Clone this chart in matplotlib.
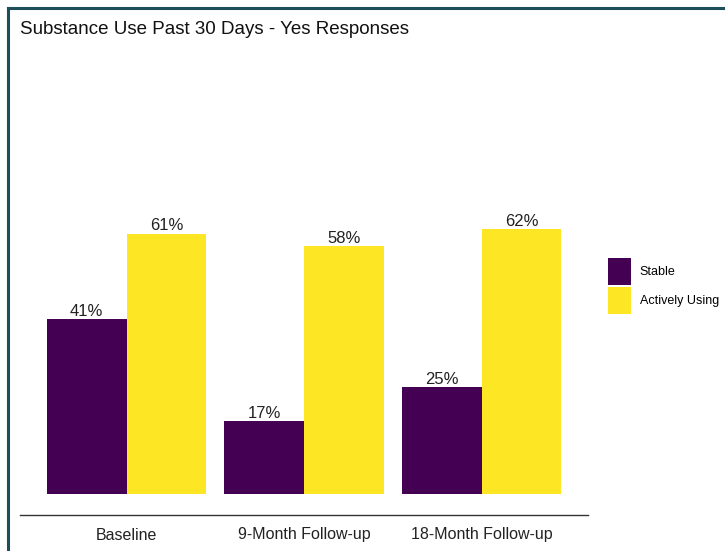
import numpy as np
import matplotlib.pyplot as plt
from matplotlib.patches import Patch
from matplotlib.lines import Line2D

plt.rcParams['font.family'] = ['Liberation Sans', 'DejaVu Sans']

# Datos
periodos = ["Baseline", "9-Month Follow-up", "18-Month Follow-up"]
grupos = ["Stable", "Actively Using"]
stable = [41, 17, 25]
activos = [61, 58, 62]
colores = ["#440154", "#FDE725"]

W, H = 725, 551
fig = plt.figure(figsize=(W / 100, H / 100), dpi=100)

# Marco del recuadro
fig.add_artist(Line2D([8 / W, 8 / W], [0, 1 - 8 / H], color="#1d4f5b", lw=2.2))
fig.add_artist(Line2D([8 / W, 1], [1 - 8 / H, 1 - 8 / H], color="#1d4f5b", lw=2.2))

ax = fig.add_axes([20 / W, 1 - 515 / H, 568 / W, 465 / H])

x = np.arange(1, len(periodos) + 1)
ancho = 0.45
b1 = ax.bar(x - ancho / 2, stable, ancho, color=colores[0], label=grupos[0])
b2 = ax.bar(x + ancho / 2, activos, ancho, color=colores[1], label=grupos[1])

for barras, vals in [(b1, stable), (b2, activos)]:
    for b, v in zip(barras, vals):
        ax.text(b.get_x() + b.get_width() / 2, v + 0.75, f"{v}%",
                ha="center", va="baseline", fontsize=12, color="#222222")

ax.set_xlim(0.4, 3.6)
ax.set_ylim(-4.9, 104)
ax.set_xticks(x)
ax.set_xticklabels(periodos, fontsize=11.5, color="#222222")
ax.set_yticks([])
ax.tick_params(axis="x", length=0, pad=9)
for s in ["top", "right", "left"]:
    ax.spines[s].set_visible(False)
ax.spines["bottom"].set_color("#333333")
ax.spines["bottom"].set_linewidth(1.0)

fig.text(20 / W, 1 - 29.5 / H, "Substance Use Past 30 Days - Yes Responses",
         ha="left", va="center", fontsize=13.5, color="#111111")

handles = [Patch(facecolor=c, edgecolor="none") for c in colores]
fig.legend(handles, grupos, loc="center left", bbox_to_anchor=(608 / W, 1 - 286 / H),
           frameon=False, fontsize=9, handlelength=1.85, handleheight=2.9,
           handletextpad=0.7, labelspacing=0.15, borderaxespad=0, borderpad=0)

fig.savefig("out.png", dpi=100)
